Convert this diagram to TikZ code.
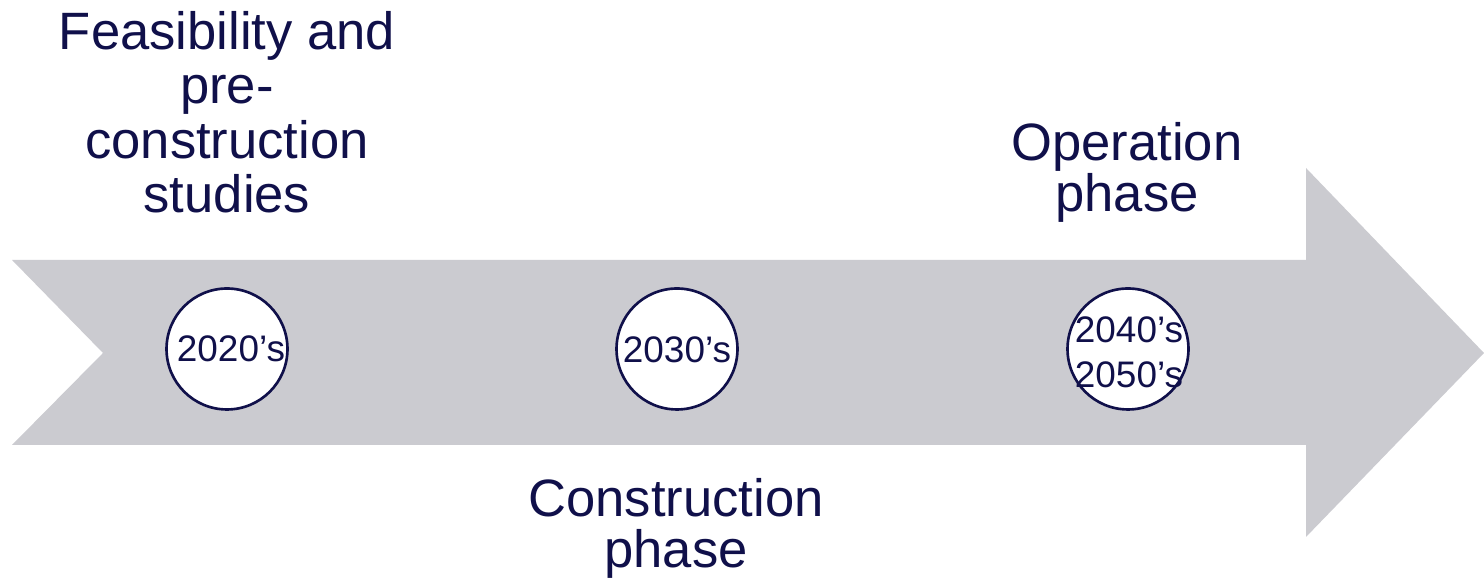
\documentclass[tikz,border=0pt]{standalone}
\usepackage{fontspec}
\setmainfont{Liberation Sans}
\definecolor{navy}{RGB}{16,16,74}
\definecolor{arrowgray}{RGB}{203,203,208}
\begin{document}
\begin{tikzpicture}[x=0.01cm,y=-0.01cm,
  bigtext/.style={text=navy,align=center,inner sep=0pt,anchor=base,
    font=\fontsize{14.95pt}{15.5pt}\selectfont},
  phasetext/.style={bigtext,font=\fontsize{14.95pt}{14.6pt}\selectfont},
  yearcircle/.style={circle,draw=navy,fill=white,line width=0.75pt,
    minimum size=34.4pt,inner sep=0pt},
  yeartext/.style={text=navy,align=center,inner sep=0pt,
    font=\fontsize{10.5pt}{12.8pt}\selectfont}]
\useasboundingbox (0,0) rectangle (1484,580);
% big arrow
\fill[arrowgray] (12,260) -- (1306,260) -- (1306,168) -- (1484,353)
  -- (1306,537) -- (1306,445) -- (12,445) -- (103,353) -- cycle;
% circles
\node[yearcircle] (c1) at (227,349) {};
\node[yearcircle] (c2) at (677,349) {};
\node[yearcircle] (c3) at (1128,349) {};
\node[yeartext] (t1) at (231,349) {2020’s};
\node[yeartext] (t2) at (677,350) {2030’s};
\node[yeartext] (t3) at (1129,352) {2040’s\\2050’s};
% labels
\node[bigtext] (l1) at (227,213) {Feasibility and\\pre-\\construction\\studies};
\node[phasetext] (l2) at (1127,212) {Operation\\phase};
\node[phasetext] (l3) at (676,568) {Construction\\phase};
\end{tikzpicture}
\end{document}
